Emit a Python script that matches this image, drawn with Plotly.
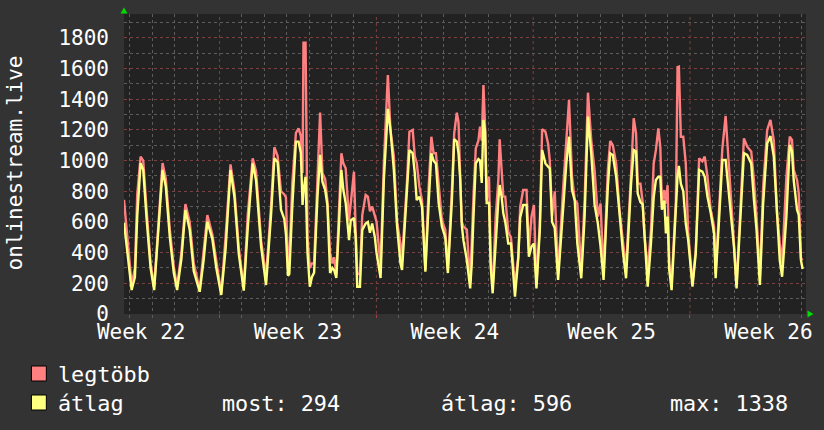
import plotly.graph_objects as go

# ---------------- data ----------------
# time in hours since the first midnight shown on the chart
t_hours = [-6.4, -1.8, 1.8, 5.3, 7.8, 11.4, 14.2, 17.8, 22.1, 25.9,
           30.2, 34.9, 38.4, 42.7, 46.9, 50.5, 55.1, 59.4, 64.0, 68.3,
           74.7, 78.9, 82.9, 88.2, 92.5, 97.8, 102.4, 107.7, 112.0, 116.6,
           121.9, 126.2, 131.5, 135.1, 140.5, 145.8, 151.1, 154.7, 158.2, 161.8,
           165.3, 167.1, 169.3, 170.7, 173.9, 177.8, 180.6, 183.1, 184.9, 185.9,
           188.1, 190.2, 192.7, 194.9, 197.3, 200.9, 203.7, 206.2, 209.1, 211.5,
           214.4, 216.9, 218.7, 221.1, 224.0, 226.5, 228.6, 231.1, 234.7, 236.5,
           240.0, 241.8, 243.5, 246.4, 248.9, 252.5, 254.9, 257.1, 259.5, 262.4,
           264.2, 268.5, 272.0, 276.3, 279.1, 282.7, 286.2, 289.8, 291.5, 296.9,
           299.4, 302.9, 305.1, 307.2, 310.1, 312.9, 316.5, 320.0, 322.9, 325.3,
           327.8, 330.7, 334.2, 337.8, 340.6, 344.9, 347.4, 350.2, 352.0, 353.8,
           355.5, 357.3, 360.9, 364.5, 366.2, 368.0, 370.5, 373.3, 375.1, 376.9,
           378.7, 380.5, 382.2, 384.7, 386.5, 388.6, 391.8, 394.7, 396.1, 398.2,
           400.0, 402.1, 405.3, 408.2, 412.5, 416.0, 418.1, 421.3, 424.9, 427.4,
           430.2, 432.8, 435.5, 439.1, 441.6, 445.1, 448.0, 449.8, 452.3, 455.1,
           458.7, 464.0, 467.5, 470.4, 473.6, 476.5, 479.3, 483.5, 487.1, 490.7,
           494.2, 497.8, 501.3, 504.2, 507.4, 512.0, 514.5, 517.3, 520.9, 524.5,
           528.0, 531.5, 536.9, 539.7, 542.2, 544.0, 546.9, 549.3, 551.1, 554.7,
           558.2, 561.1, 563.5, 566.1, 568.2, 569.9, 572.5, 574.2, 576.0, 577.8,
           580.3, 584.9, 586.7, 588.1, 590.2, 592.8, 595.5, 598.1, 602.7, 606.2,
           609.8, 613.3, 615.8, 618.7, 622.2, 625.8, 627.5, 631.1, 634.7, 638.2,
           641.8, 644.3, 647.1, 649.9, 654.2, 657.8, 661.3, 665.6, 668.5, 671.3,
           674.9, 678.4, 682.7, 686.2, 689.8, 693.3, 696.2, 698.7, 703.3, 706.9,
           709.3, 711.1, 714.7, 716.5, 718.9, 720.7]

legtobb = [745, 460, 190, 300, 780, 1026, 1000, 680, 330, 178,
           560, 984, 880, 550, 310, 180, 400, 717, 600, 330,
           160, 400, 645, 520, 350, 135, 500, 976, 800, 430,
           168, 650, 1015, 930, 480, 243, 700, 1087, 1030, 800,
           780, 760, 300, 350, 850, 1180, 1210, 1160, 919, 1769,
           1769, 500, 300, 330, 330, 830, 1313, 919, 880, 740,
           398, 330, 370, 260, 630, 1048, 982, 950, 610, 720,
           928, 550, 270, 255, 645, 776, 765, 670, 700, 640,
           600, 310, 980, 1558, 1200, 1030, 600, 460, 350, 874,
           1189, 1200, 1030, 986, 830, 740, 287, 830, 1156, 1048,
           1048, 850, 610, 550, 287, 810, 1180, 1313, 1250, 900,
           600, 570, 550, 200, 500, 765, 1080, 1130, 1221, 1130,
           1493, 1210, 740, 895, 350, 167, 630, 874, 1139, 919,
           765, 765, 535, 500, 178, 374, 700, 808, 808, 420,
           635, 711, 190, 590, 1204, 1189, 1110, 1000, 640, 800,
           260, 810, 1134, 1395, 895, 745, 720, 275, 740, 1443,
           1134, 935, 635, 720, 255, 940, 1128, 1100, 982, 678,
           480, 298, 917, 1276, 1178, 850, 850, 730, 525, 287,
           548, 980, 1070, 1210, 1090, 720, 808, 720, 840, 330,
           200, 740, 1610, 1613, 1156, 1156, 980, 525, 200, 417,
           1015, 995, 1026, 895, 680, 570, 265, 700, 1080, 1291,
           939, 656, 460, 190, 720, 1145, 1091, 1060, 874, 635,
           243, 830, 1200, 1265, 1130, 650, 460, 330, 895, 1156,
           1135, 940, 874, 790, 363, 352]

atlag = [595, 350, 156, 240, 640, 984, 940, 620, 300, 156,
         500, 939, 830, 500, 270, 156, 360, 678, 550, 280,
         145, 350, 602, 490, 300, 124, 420, 939, 760, 390,
         152, 560, 982, 870, 440, 189, 640, 1015, 990, 680,
         620, 520, 250, 260, 700, 1124, 1124, 1050, 711, 800,
         895, 400, 178, 240, 270, 765, 1037, 863, 810, 711,
         267, 300, 287, 235, 590, 939, 810, 724, 482, 610,
         626, 500, 178, 178, 548, 590, 600, 530, 590, 500,
         398, 235, 874, 1338, 1200, 939, 569, 330, 287, 785,
         1069, 1048, 920, 743, 765, 700, 276, 721, 1048, 1000,
         980, 724, 570, 500, 267, 740, 1140, 1124, 1048, 880,
         580, 480, 352, 167, 330, 630, 982, 1010, 1000, 854,
         1265, 1190, 724, 724, 308, 135, 500, 745, 841, 765,
         656, 600, 460, 460, 113, 360, 630, 711, 711, 374,
         440, 460, 167, 548, 1069, 982, 960, 950, 600, 560,
         222, 721, 982, 1156, 808, 740, 460, 233, 635, 1287,
         1048, 711, 590, 440, 222, 830, 1048, 1037, 895, 656,
         415, 233, 852, 1069, 1060, 785, 730, 715, 505, 178,
         460, 760, 874, 895, 895, 680, 740, 526, 635, 287,
         156, 680, 900, 965, 850, 800, 590, 480, 178, 395,
         939, 928, 895, 765, 660, 525, 233, 610, 1004, 1004,
         765, 635, 440, 167, 635, 1048, 1037, 982, 745, 548,
         189, 720, 1112, 1160, 1026, 630, 350, 243, 635, 1102,
         1060, 874, 680, 646, 350, 294]

week_label_pos = [12, 180, 348, 516, 684]
week_labels = ["Week 22", "Week 23", "Week 24", "Week 25", "Week 26"]
week_starts = [96, 264, 432, 600]      # week boundaries (hours)
day_count = 31
y_ticks = [0, 200, 400, 600, 800, 1000, 1200, 1400, 1600, 1800]
stat_most = 294
stat_atlag = 596
stat_max = 1338
series_names = ["legtöbb", "átlag"]
axis_title = "onlinestream.live"

# ---------------- layout constants ----------------
W, H = 824, 430
L, R, T, B = 124, 15, 14, 116
PW, PH = W - L - R, H - T - B
FONT = "DejaVu Sans Mono"
FS = 21
RED = "#ff8080"
YEL = "#ffff80"
BG = "#333333"
PLOTBG = "#222222"
GRID_MIN = "#5c5c5c"
GRID_MAJ = "#7c4040"
XR = [-6.4, 724.3]

day_lines = [d * 24 for d in range(day_count) if d * 24 not in week_starts]


def px(xp):
    return (xp - L) / PW


def py(yp):
    return (H - B - yp) / PH


fig = go.Figure()
fig.add_trace(go.Scatter(x=t_hours, y=legtobb, mode="lines", name=series_names[0],
                         line=dict(color=RED, width=2.4), xaxis="x", yaxis="y"))
fig.add_trace(go.Scatter(x=t_hours, y=atlag, mode="lines", name=series_names[1],
                         line=dict(color=YEL, width=2.4), xaxis="x2", yaxis="y"))

shapes = []
# weekly (major) vertical grid lines
for ws in week_starts:
    shapes.append(dict(type="line", xref="x", yref="paper", x0=ws, x1=ws, y0=0, y1=1,
                       layer="below", line=dict(color=GRID_MAJ, width=1, dash="dot")))
# legend squares
for i, col in enumerate([RED, YEL]):
    y0 = 366 + i * 29
    shapes.append(dict(type="rect", xref="paper", yref="paper",
                       x0=px(31), x1=px(46), y0=py(y0 + 15), y1=py(y0),
                       fillcolor=col, line=dict(color="#000000", width=1)))
# green arrows
shapes.append(dict(type="path", xref="paper", yref="paper",
                   path=f"M {px(120.5)},{py(13.5)} L {px(127.5)},{py(13.5)} L {px(124)},{py(7.5)} Z",
                   fillcolor="#00dd00", line=dict(width=0)))
shapes.append(dict(type="path", xref="paper", yref="paper",
                   path=f"M {px(810.5)},{py(310.5)} L {px(810.5)},{py(317.5)} L {px(816.5)},{py(314)} Z",
                   fillcolor="#00dd00", line=dict(width=0)))

tf = dict(family=FONT, size=FS, color="#ffffff")
lf = dict(family=FONT, size=21.8, color="#ffffff")
ann = [
    dict(text=axis_title, xref="paper", yref="paper", x=px(15), y=py(163),
         textangle=-90, showarrow=False, font=tf, xanchor="center", yanchor="middle"),
    dict(text=series_names[0], xref="paper", yref="paper", x=px(56), y=py(374),
         showarrow=False, font=lf, xanchor="left", yanchor="middle"),
    dict(text=series_names[1], xref="paper", yref="paper", x=px(56), y=py(403),
         showarrow=False, font=lf, xanchor="left", yanchor="middle"),
    dict(text=f"most: {stat_most}", xref="paper", yref="paper", x=px(220), y=py(403),
         showarrow=False, font=lf, xanchor="left", yanchor="middle"),
    dict(text=f"átlag: {stat_atlag}", xref="paper", yref="paper", x=px(440), y=py(403),
         showarrow=False, font=lf, xanchor="left", yanchor="middle"),
    dict(text=f"max: {stat_max}", xref="paper", yref="paper", x=px(670), y=py(403),
         showarrow=False, font=lf, xanchor="left", yanchor="middle"),
]

fig.update_layout(
    width=W, height=H, margin=dict(l=L, r=R, t=T, b=B, pad=0),
    paper_bgcolor=BG, plot_bgcolor=PLOTBG, showlegend=False,
    font=tf,
    # base axis: week boundary ticks + daily minor grid
    xaxis=dict(range=XR, tickmode="array", tickvals=week_starts,
               showticklabels=False, showgrid=False,
               zeroline=False, showline=False,
               ticks="outside", ticklen=3, tickcolor="#aa4040", fixedrange=True,
               minor=dict(tickmode="array", tickvals=day_lines, showgrid=True,
                          gridcolor=GRID_MIN, griddash="dot", gridwidth=1,
                          ticks="outside", ticklen=3, tickcolor=GRID_MIN)),
    # overlay axis: week labels
    xaxis2=dict(range=XR, overlaying="x", anchor="y", side="bottom",
                tickmode="array", tickvals=week_label_pos, ticktext=week_labels,
                showgrid=False, zeroline=False, showline=False, ticks="",
                ticklabelstandoff=3, tickfont=tf, fixedrange=True),
    yaxis=dict(range=[0, 1956], tickmode="array", tickvals=y_ticks,
               showgrid=True, gridcolor=GRID_MAJ, griddash="dot", gridwidth=1,
               zeroline=False, showline=False, ticks="", tickfont=tf,
               ticklabelstandoff=14, fixedrange=True,
               minor=dict(tickmode="linear", tick0=0, dtick=100, showgrid=True,
                          gridcolor=GRID_MIN, griddash="dot", gridwidth=1)),
    shapes=shapes, annotations=ann,
)

fig.write_html("out.html")
